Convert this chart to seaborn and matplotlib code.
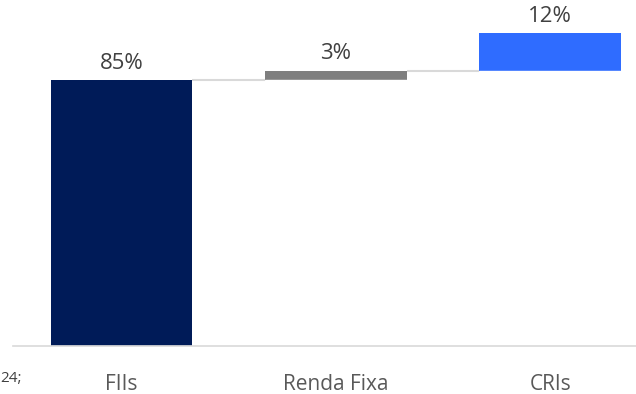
import matplotlib
matplotlib.use("Agg")
import matplotlib.pyplot as plt
import seaborn as sns
import numpy as np

# waterfall data (% of portfolio)
categories = ["FIIs", "Renda Fixa", "CRIs"]
shares = [85, 3, 12]
labels = ["85%", "3%", "12%"]
colors = ["#001B58", "#7F7F7F", "#2F6CFF"]

ends = np.cumsum(shares)
starts = ends - np.array(shares)

sns.set_style("white")
plt.rcParams["font.family"] = ["Open Sans", "DejaVu Sans"]

fig = plt.figure(figsize=(6.36, 3.94), dpi=100)
ax = fig.add_axes([13 / 636, 48 / 394, 1 - 13 / 636, 313 / 394])

w = 0.66
sns.barplot(x=categories, y=ends, hue=categories, palette=colors, legend=False,
            width=w, linewidth=0, saturation=1, ax=ax)
# blank out the part below each step
sns.barplot(x=categories, y=starts, color="white", width=w,
            edgecolor="white", linewidth=1, saturation=1, ax=ax)

# connectors between steps
for i in range(len(categories) - 1):
    ax.plot([i + w / 2, i + 1 - w / 2], [ends[i], ends[i]], color="#D9D9D9",
            lw=1.5, solid_capstyle="butt", zorder=1)

for i, lab in enumerate(labels):
    ax.annotate(lab, (i, ends[i]), xytext=(0, 12), textcoords="offset points",
                ha="center", va="center", fontsize=16, color="#404040",
                annotation_clip=False)

ax.set_xlim(-0.505, 2.40)
ax.set_ylim(0, 100)
ax.set_yticks([])
ax.set_xlabel("")
ax.set_ylabel("")
for s in ["top", "right", "left"]:
    ax.spines[s].set_visible(False)
ax.spines["bottom"].set_color("#D9D9D9")
ax.spines["bottom"].set_linewidth(1.2)
ax.tick_params(axis="x", length=0, pad=20, labelsize=15, labelcolor="#595959")

fig.text(0.0, (394 - 378) / 394, "24;", fontsize=11, color="#404040", va="center")

fig.savefig("out.png", dpi=100)
